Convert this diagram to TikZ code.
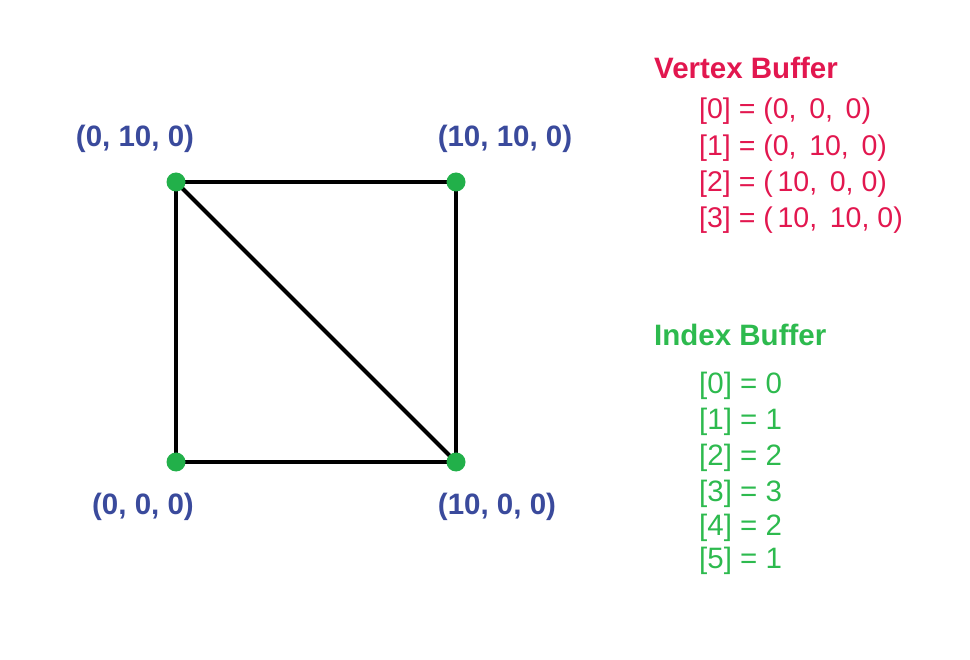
\documentclass[tikz,border=0pt]{standalone}
\usepackage{fontspec}
\setmainfont{Liberation Sans}
\definecolor{lblblue}{HTML}{3A4A9C}
\definecolor{vred}{HTML}{E2174F}
\definecolor{igreen}{HTML}{2DBA4E}
\definecolor{dotgreen}{HTML}{22B04A}
\tikzset{
  vdot/.style={circle,fill=dotgreen,inner sep=0pt,minimum size=19pt},
  edge/.style={line width=4pt,black},
  vlabel/.style={font=\fontsize{29.5}{32}\selectfont\bfseries,text=lblblue,inner sep=0pt},
  vtitle/.style={font=\fontsize{29.5}{32}\selectfont\bfseries,text=vred,inner sep=0pt,anchor=west},
  ventry/.style={font=\fontsize{28.5}{32}\selectfont,text=vred,inner sep=0pt,anchor=west},
  ititle/.style={font=\fontsize{29.5}{32}\selectfont\bfseries,text=igreen,inner sep=0pt,anchor=west},
  ientry/.style={font=\fontsize{29.5}{32}\selectfont,text=igreen,inner sep=0pt,anchor=west}
}
\begin{document}
\begin{tikzpicture}[x=1pt,y=-1pt]
\useasboundingbox (0,0) rectangle (970,660);
\coordinate (tl) at (176,182);
\coordinate (tr) at (456,182);
\coordinate (bl) at (176,462);
\coordinate (br) at (456,462);
\draw[edge] (tl) -- (tr) -- (br) -- (bl) -- cycle;
\draw[edge] (tl) -- (br);
\node[vdot] (dtl) at (tl) {};
\node[vdot] (dtr) at (tr) {};
\node[vdot] (dbl) at (bl) {};
\node[vdot] (dbr) at (br) {};
\node[vlabel] (ltl) at (135,139) {(0, 10, 0)};
\node[vlabel] (ltr) at (505,139) {(10, 10, 0)};
\node[vlabel] (lbl) at (143,507) {(0, 0, 0)};
\node[vlabel] (lbr) at (497,507) {(10, 0, 0)};
\node[vtitle] (vt) at (654,68) {Vertex Buffer};
\node[ventry] (v0) at (699,111) {[0] = (0,\, 0,\, 0)};
\node[ventry] (v1) at (699,148) {[1] = (0,\, 10,\, 0)};
\node[ventry] (v2) at (699,184) {[2] = (\,10,\, 0, 0)};
\node[ventry] (v3) at (699,220) {[3] = (\,10,\, 10, 0)};
\node[ititle] (it) at (654,335) {Index Buffer};
\node[ientry] (i0) at (699,386) {[0] = 0};
\node[ientry] (i1) at (699,422) {[1] = 1};
\node[ientry] (i2) at (699,458) {[2] = 2};
\node[ientry] (i3) at (699,494) {[3] = 3};
\node[ientry] (i4) at (699,528) {[4] = 2};
\node[ientry] (i5) at (699,561) {[5] = 1};
\end{tikzpicture}
\end{document}
